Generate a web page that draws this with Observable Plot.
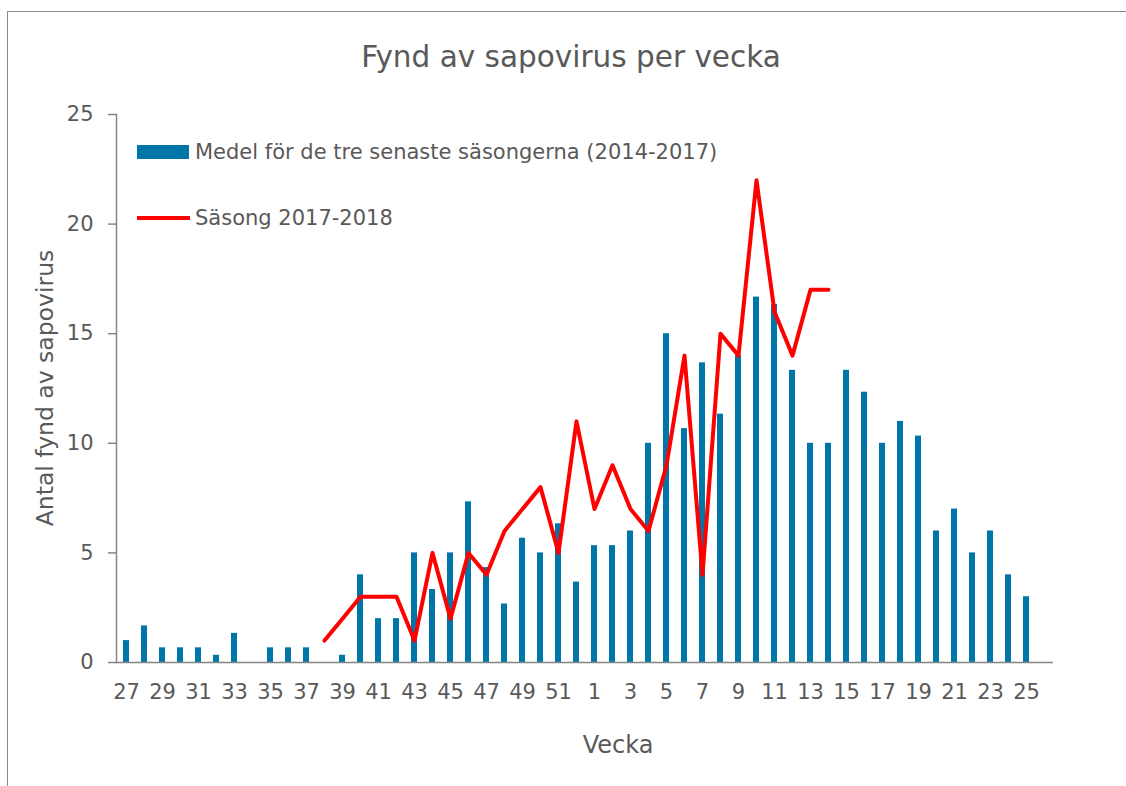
<!DOCTYPE html>
<html><head><meta charset="utf-8">
<script src="https://cdn.jsdelivr.net/npm/d3@7"></script>
<script src="https://cdn.jsdelivr.net/npm/@observablehq/plot@0.6"></script>
<style>
body{margin:0;background:#fff;}
#wrap{position:relative;width:1126px;height:786px;overflow:hidden;font-family:"DejaVu Sans",sans-serif;color:#595959;}
#frame{position:absolute;left:7px;top:11px;width:1300px;height:900px;border-left:1.5px solid #8a8a8a;border-top:1.5px solid #8a8a8a;box-sizing:border-box;}
#chart{position:absolute;left:0;top:0;}
#title{position:absolute;left:0;width:1142px;top:38px;text-align:center;font-size:29.5px;line-height:38px;}
#ytitle{position:absolute;left:45px;top:388px;transform:translate(-50%,-50%) rotate(-90deg);white-space:nowrap;font-size:23.5px;}
#xtitle{position:absolute;left:618px;top:745px;transform:translate(-50%,-50%);font-size:24px;white-space:nowrap;}
.lg{position:absolute;font-size:21px;white-space:nowrap;transform:translateY(-50%);}
.sw{position:absolute;}
</style></head>
<body>
<div id="wrap">
  <div id="frame"></div>
  <div id="chart"></div>
  <div id="title"></div>
  <div id="ytitle"></div>
  <div id="xtitle"></div>
  <div class="sw" id="sw1" style="left:137px;top:145px;width:52px;height:14px;background:#0076a8;"></div>
  <div class="lg" id="lg1" style="left:195px;top:152px;"></div>
  <div class="sw" id="sw2" style="left:137px;top:215.5px;width:53px;height:4px;background:#ff0000;"></div>
  <div class="lg" id="lg2" style="left:195px;top:218px;"></div>
</div>
<script>
const titleText = "Fynd av sapovirus per vecka";
const yTitle = "Antal fynd av sapovirus";
const xTitle = "Vecka";
const seriesNames = ["Medel för de tre senaste säsongerna (2014-2017)", "Säsong 2017-2018"];

const weeks = ["27","28","29","30","31","32","33","34","35","36","37","38","39","40","41","42","43","44","45","46","47","48","49","50","51","52",
  "1","2","3","4","5","6","7","8","9","10","11","12","13","14","15","16","17","18","19","20","21","22","23","24","25","26"];

const medel = [1, 1.67, 0.67, 0.67, 0.67, 0.33, 1.33, 0, 0.67, 0.67, 0.67, 0, 0.33, 4, 2, 2, 5, 3.33, 5, 7.33, 4.33, 2.67, 5.67, 5, 6.33, 3.67,
  5.33, 5.33, 6, 10, 15, 10.67, 13.67, 11.33, 14, 16.67, 16.33, 13.33, 10, 10, 13.33, 12.33, 10, 11, 10.33, 6, 7, 5, 6, 4, 3, null];

const season = [null, null, null, null, null, null, null, null, null, null, null, 1, 2, 3, 3, 3, 1, 5, 2, 5, 4, 6, 7, 8, 5, 11,
  7, 9, 7, 6, 9, 14, 4, 15, 14, 22, 16, 14, 17, 17, null, null, null, null, null, null, null, null, null, null, null, null];

const tickWeeks = ["27","29","31","33","35","37","39","41","43","45","47","49","51","1","3","5","7","9","11","13","15","17","19","21","23","25"];
const yTicks = [0, 5, 10, 15, 20, 25];

const data = weeks.map((w, i) => ({week: w, medel: medel[i], season: season[i]}));

document.getElementById("title").textContent = titleText;
document.getElementById("ytitle").textContent = yTitle;
document.getElementById("xtitle").textContent = xTitle;
document.getElementById("lg1").textContent = seriesNames[0];
document.getElementById("lg2").textContent = seriesNames[1];

const chart = Plot.plot({
  width: 1126,
  height: 786,
  marginTop: 114,
  marginBottom: 124,
  marginLeft: 116,
  marginRight: 73,
  style: {fontFamily: '"DejaVu Sans",sans-serif', fontSize: "21px", color: "#595959", background: "transparent"},
  x: {type: "band", domain: weeks, paddingInner: 0.67, paddingOuter: 0.335, label: null},
  y: {domain: [0, 25], label: null},
  marks: [
    Plot.barY(data, {x: "week", y: "medel", fill: "#0076a8"}),
    Plot.line(data, {x: "week", y: "season", stroke: "#ff0000", strokeWidth: 4}),
    Plot.axisX({ticks: tickWeeks, tickSize: 0, tickPadding: 22, fill: "#595959", label: null}),
    Plot.axisY({ticks: yTicks, tickSize: 8, tickPadding: 15, stroke: "#868686", strokeWidth: 1.5, fill: "#595959", label: null}),
    Plot.frame({anchor: "left", stroke: "#868686", strokeWidth: 1.5}),
    Plot.ruleY([0], {stroke: "#868686", strokeWidth: 1.5})
  ]
});
document.getElementById("chart").appendChild(chart);
</script>
</body></html>
